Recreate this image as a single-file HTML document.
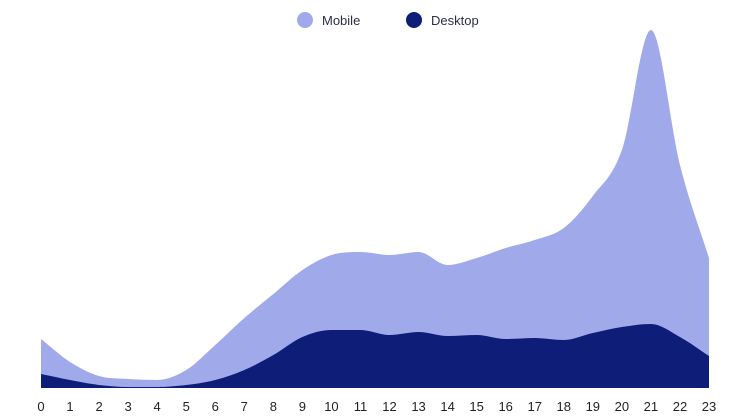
<!DOCTYPE html>
<html><head><meta charset="utf-8"><style>
body{margin:0;background:#fff;}
svg{display:block;font-family:"Liberation Sans",sans-serif;}
</style></head><body>
<svg id="chart" width="746" height="419">
<g>
<g><circle cx="305" cy="20" r="8" fill="#a0aaea"/><text x="322" y="25" font-size="13" fill="#2a2f4a">Mobile</text></g>
<g><circle cx="414" cy="20" r="8" fill="#0e1e78"/><text x="431" y="25" font-size="13" fill="#2a2f4a">Desktop</text></g>
</g>
<g id="areas"></g>
<g id="xaxis"></g>
</svg>
<script>
const hours=[0,1,2,3,4,5,6,7,8,9,10,11,12,13,14,15,16,17,18,19,20,21,22,23];
const desktop=[14,8,3,1,1,3,8,18,33,51,58,58,53,56,52,53,49,50,48,55,61,64,51,32];
const mobile=[35,18,9,8,7,15,35,52,61,67,75,78,80,80,71,77,91,98,112,137,177,294,172,98];
const X0=41,X1=709,Y0=388,YTOP=28,YMAX=360;
const xs=i=>X0+(X1-X0)*i/(hours.length-1);
const ys=v=>Y0-(Y0-YTOP)*v/YMAX;
const NS="http://www.w3.org/2000/svg";
function smooth(pts){
  const n=pts.length,m=[];
  const d=[];for(let i=0;i<n-1;i++)d.push((pts[i+1][1]-pts[i][1])/(pts[i+1][0]-pts[i][0]));
  for(let i=0;i<n;i++){
    if(i==0)m.push(d[0]);else if(i==n-1)m.push(d[n-2]);
    else m.push(d[i-1]*d[i]<=0?0:(d[i-1]+d[i])/2);
  }
  let s="M"+pts[0][0]+","+pts[0][1];
  for(let i=0;i<n-1;i++){
    const h=(pts[i+1][0]-pts[i][0])/3;
    s+=" C"+(pts[i][0]+h)+","+(pts[i][1]+m[i]*h)+" "+(pts[i+1][0]-h)+","+(pts[i+1][1]-m[i+1]*h)+" "+pts[i+1][0]+","+pts[i+1][1];
  }
  return s;
}
const g=document.getElementById("areas");
const topPts=hours.map((h,i)=>[xs(i),ys(desktop[i]+mobile[i])]);
const dPts=hours.map((h,i)=>[xs(i),ys(desktop[i])]);
const close=" L"+xs(hours.length-1)+","+Y0+" L"+xs(0)+","+Y0+" Z";
const pm=document.createElementNS(NS,"path");
pm.setAttribute("d",smooth(topPts)+close);
pm.setAttribute("fill","#a0aaea");


g.appendChild(pm);
const pd=document.createElementNS(NS,"path");
pd.setAttribute("d",smooth(dPts)+close);
pd.setAttribute("fill","#0e1e78");


g.appendChild(pd);
const ax=document.getElementById("xaxis");
hours.forEach((h,i)=>{
  const t=document.createElementNS(NS,"text");
  t.setAttribute("x",xs(i));t.setAttribute("y",411);
  t.setAttribute("text-anchor","middle");t.setAttribute("font-size","13");t.setAttribute("fill","#222");
  t.textContent=h;
  
  
  ax.appendChild(t);
});
</script>
</body></html>
